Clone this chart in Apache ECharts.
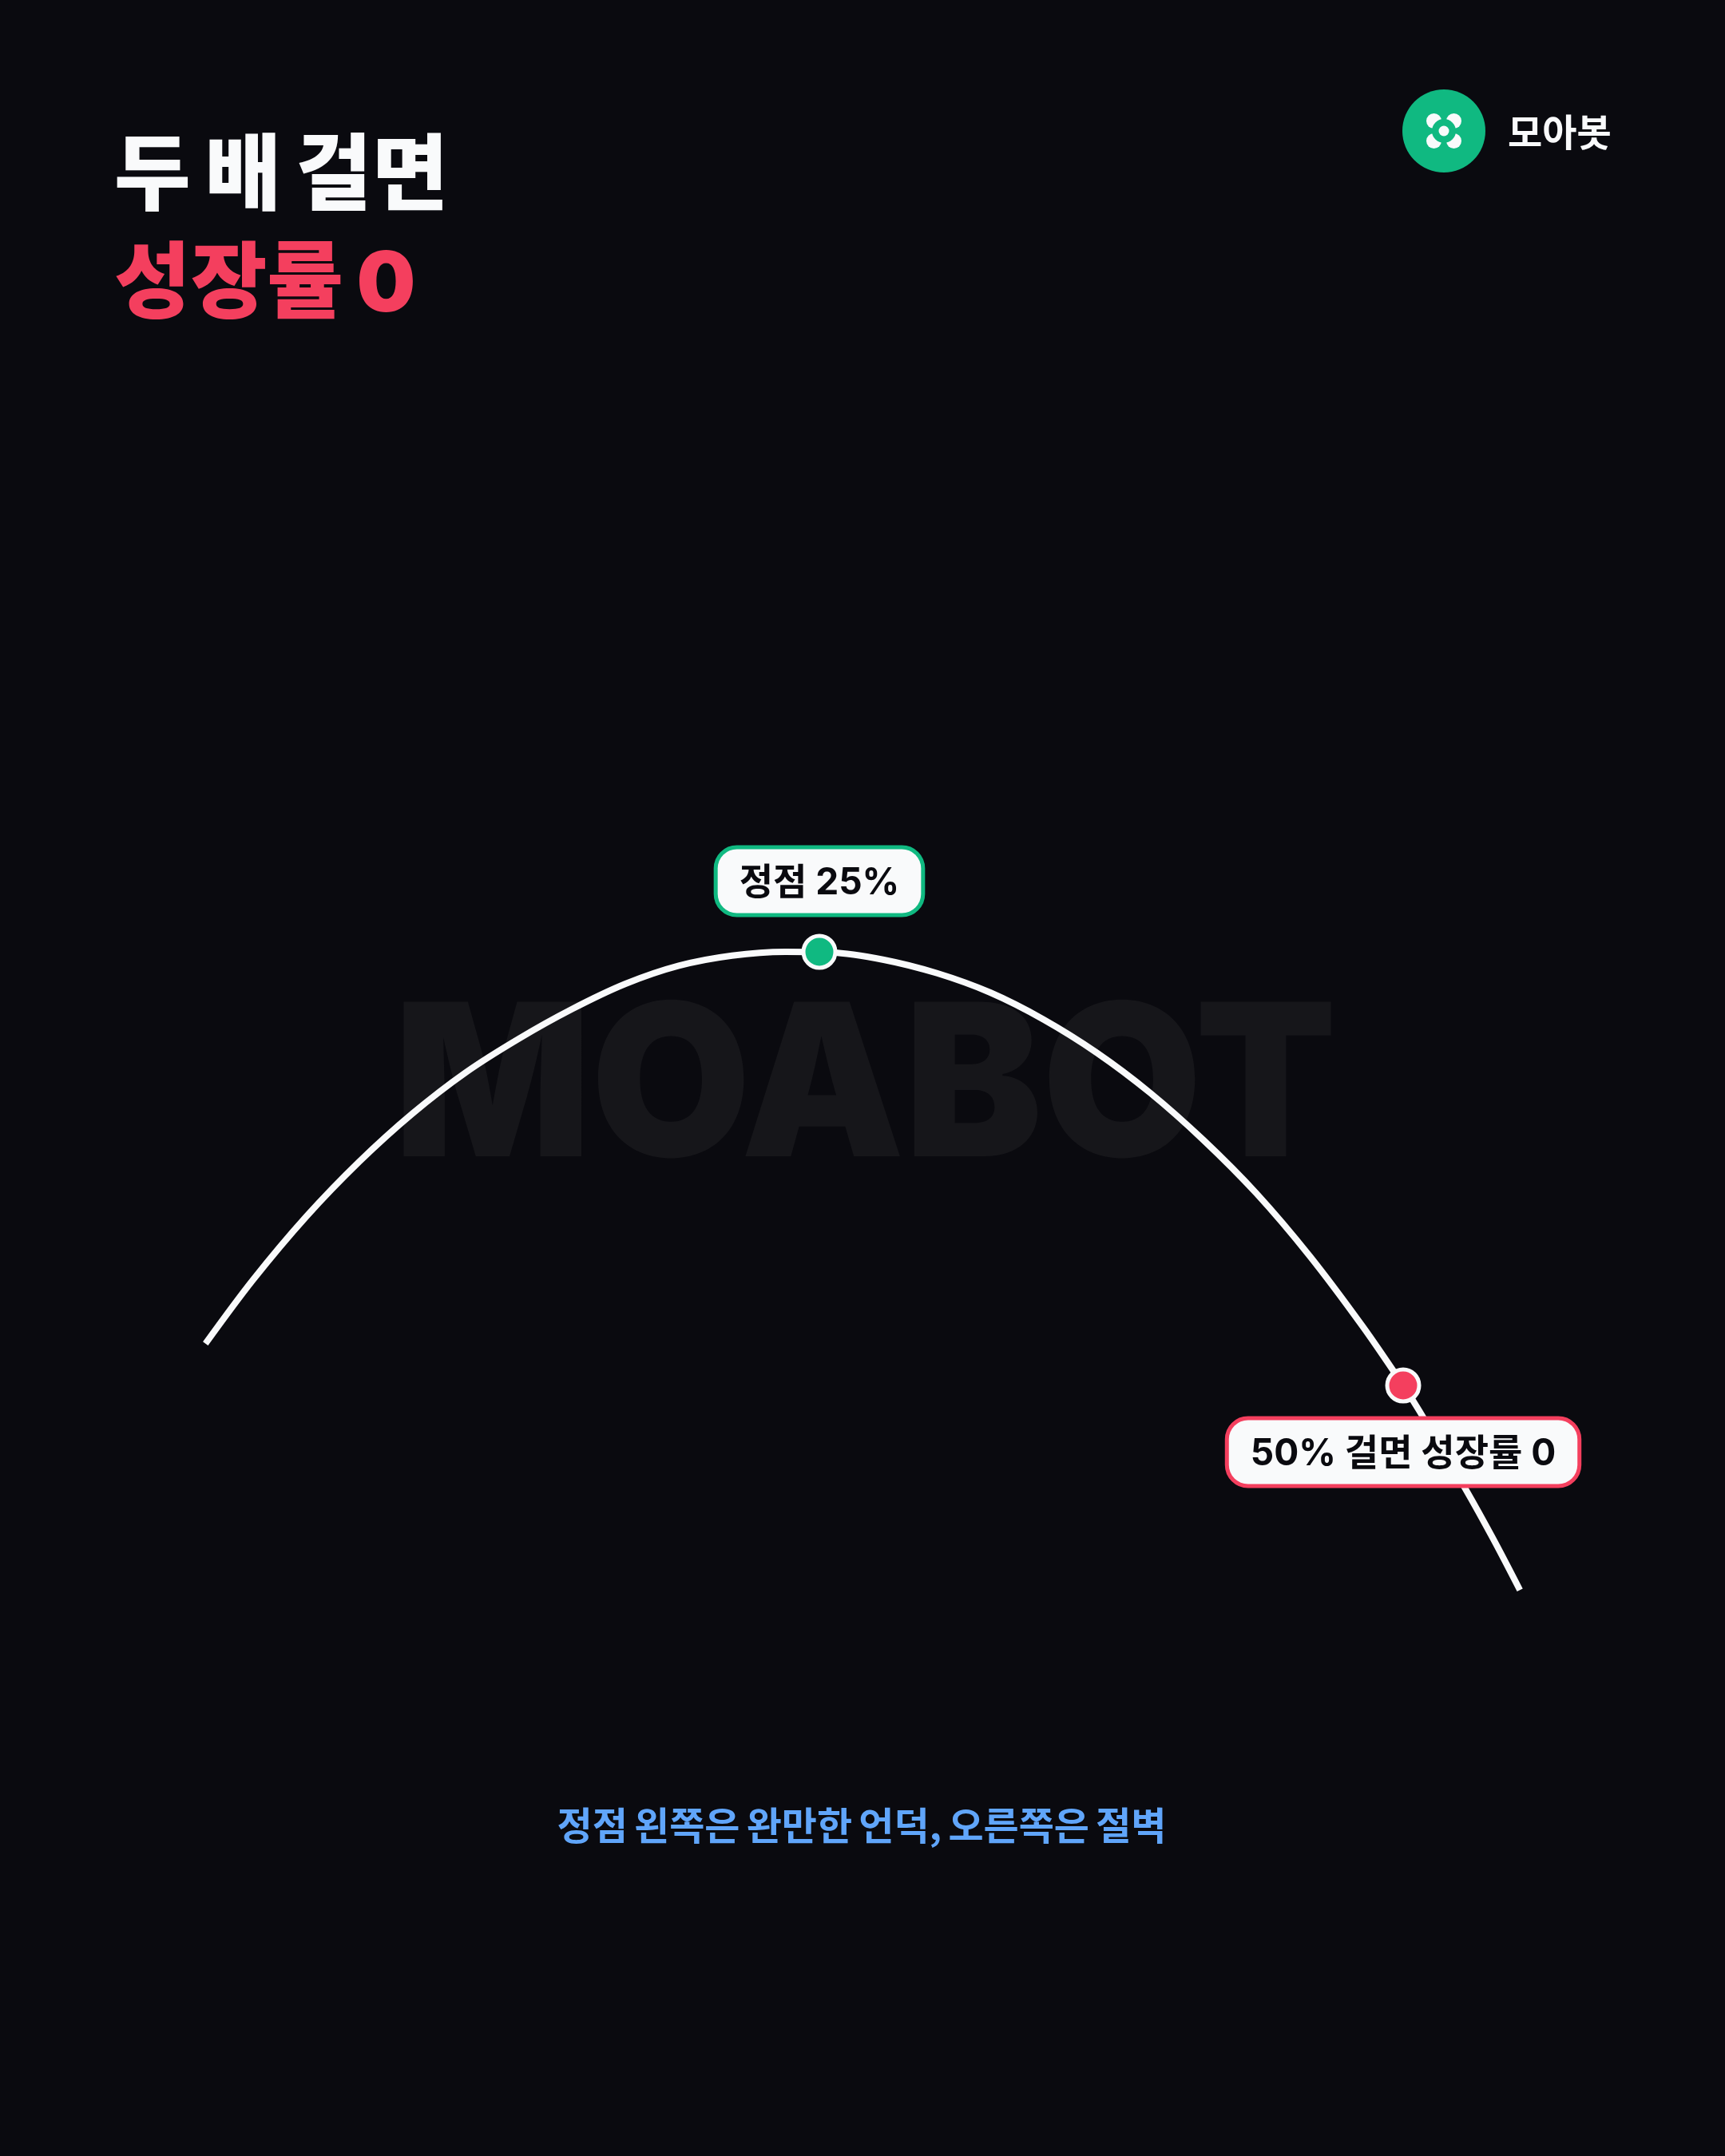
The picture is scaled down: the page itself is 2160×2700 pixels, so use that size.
<!DOCTYPE html>
<html>
<head>
<meta charset="utf-8">
<style>html,body{margin:0;padding:0;background:#0A0A0F}#c{width:2160px;height:2700px}</style>
<script src="https://cdn.jsdelivr.net/npm/echarts@6/dist/echarts.min.js"></script>
</head>
<body>
<div id="c"></div>
<script>
const betPercent = [-1.29,0.74,3.02,5.30,7.58,9.86,12.14,14.42,16.70,18.98,21.26,23.54,25.48,27.76,30.04,32.32,34.60,36.88,39.16,41.44,43.72,46.00,48.28,50,50.67,52.67,53.87,55];
const growth = [0.289,0.729,1.167,1.549,1.882,2.166,2.400,2.605,2.779,2.904,2.974,3.000,2.996,2.945,2.852,2.718,2.532,2.302,2.025,1.699,1.328,0.895,0.405,0,-0.170,-0.717,-1.066,-1.416];
const peakPoint = [25, 3];
const zeroPoint = [50, 0];
const titleWords1 = ['두','배','걸면'];
const titleWords2 = ['성장률','0'];
const brandName = '모아봇';
const watermark = 'MOABOT';
const peakLabel = '정점 25%';
const zeroLabel = '50% 걸면 성장률 0';
const captionWords = ['정점','왼쪽은','완만한','언덕,','오른쪽은','절벽'];

const BG = '#0A0A0F', WHITE = '#F9FAFB', GREEN = '#10B981', RED = '#F43F5E', BLUE = '#60A5FA';
const SANS = "Inter, 'Noto Sans CJK KR', sans-serif";
const KR = "'Noto Sans CJK KR', sans-serif";
const spaced = words => words.join('{s| }');

const chart = echarts.init(document.getElementById('c'), null, {renderer:'canvas', width:2160, height:2700});
const boxLabel = (text, color, position, offset, padding) => ({
  show:true, position, offset, distance:0, formatter:text,
  fontFamily:SANS, fontWeight:700, fontSize:46, color:BG, lineHeight:56,
  backgroundColor:WHITE, borderColor:color, borderWidth:5, borderRadius:24, padding
});
const thin = size => ({s:{fontSize:size,fontFamily:KR}});
chart.setOption({
  backgroundColor:BG,
  animation:false,
  title:[
    {text:spaced(titleWords1),left:143,top:150,padding:0,textStyle:{fontFamily:KR,fontWeight:900,fontSize:104,color:WHITE,lineHeight:130,rich:thin(78)}},
    {text:spaced(titleWords2),left:143,top:294,padding:0,textStyle:{fontFamily:SANS,fontWeight:900,fontSize:104,color:RED,lineHeight:130,rich:thin(72)}},
    {text:brandName,left:1888,top:135,padding:0,textStyle:{fontFamily:KR,fontWeight:700,fontSize:47,color:WHITE,lineHeight:60}},
    {text:spaced(captionWords),left:1079,textAlign:'center',top:2256,padding:0,textStyle:{fontFamily:KR,fontWeight:600,fontSize:48,color:BLUE,lineHeight:60,rich:thin(36)}}
  ],
  graphic:[
    {type:'text',z:0,silent:true,x:1083.5,y:1368,scaleX:0.97,style:{text:watermark,fill:'#16161A',font:"900 266px Inter, sans-serif",textAlign:'center',textVerticalAlign:'middle'}},
    {type:'circle',z:10,shape:{cx:1808,cy:164,r:52},style:{fill:GREEN}},
    {type:'circle',z:11,shape:{cx:1795.5,cy:151.5,r:9.5},style:{fill:WHITE}},
    {type:'circle',z:11,shape:{cx:1820.5,cy:151.5,r:9.5},style:{fill:WHITE}},
    {type:'circle',z:11,shape:{cx:1795.5,cy:176.5,r:9.5},style:{fill:WHITE}},
    {type:'circle',z:11,shape:{cx:1820.5,cy:176.5,r:9.5},style:{fill:WHITE}},
    {type:'circle',z:12,shape:{cx:1808,cy:164,r:15},style:{fill:GREEN}},
    {type:'circle',z:13,shape:{cx:1808,cy:164,r:6.5},style:{fill:WHITE}}
  ],
  grid:{left:148.8,top:1011,width:1900.6,height:1086},
  xAxis:{type:'value',min:-5,max:60,show:false},
  yAxis:{type:'value',min:-2,max:4,show:false},
  series:[
    {type:'line',data:betPercent.map((x,i)=>[x,growth[i]]),showSymbol:false,smooth:0.33,
     lineStyle:{color:WHITE,width:8,cap:'butt'},z:3,silent:true},
    {type:'scatter',data:[peakPoint],symbol:'circle',symbolSize:40,z:5,
     itemStyle:{color:GREEN,borderColor:WHITE,borderWidth:5,opacity:1},
     label:boxLabel(peakLabel,GREEN,'top',[0,-26],[15,27,9,27])},
    {type:'scatter',data:[zeroPoint],symbol:'circle',symbolSize:40,z:5,
     itemStyle:{color:RED,borderColor:WHITE,borderWidth:5,opacity:1},
     label:boxLabel(zeroLabel,RED,'bottom',[0,21],[15,27,9,27])}
  ]
});
</script>
</body>
</html>
